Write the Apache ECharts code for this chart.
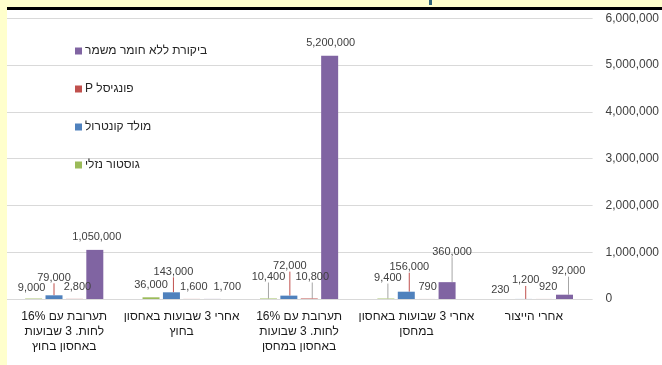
<!DOCTYPE html>
<html dir="rtl">
<head>
<meta charset="utf-8">
<script src="https://cdn.jsdelivr.net/npm/echarts@6/dist/echarts.min.js"></script>
<style>
html,body{margin:0;padding:0;background:#fff;}
#chart{width:662px;height:365px;}
</style>
</head>
<body>
<div id="chart"></div>
<script>
// Categories (data order; axis is drawn right-to-left)
var categories = [
  "אחרי הייצור",
  "אחרי 3 שבועות באחסון\nבמחסן",
  "תערובת עם 16%\nלחות. 3 שבועות\nבאחסון במחסן",
  "אחרי 3 שבועות באחסון\nבחוץ",
  "תערובת עם 16%\nלחות. 3 שבועות\nבאחסון בחוץ"
];
var seriesNames = ["גוסטור נזלי", "מולד קונטרול", "פונגיסל P", "ביקורת ללא חומר משמר"];
var gustorValues   = [230, 9400, 10400, 36000, 9000];
var moldValues     = [1200, 156000, 72000, 143000, 79000];
var fungiselValues = [920, 790, 10800, 1600, 2800];
var controlValues  = [92000, 360000, 5200000, 1700, 1050000];
var yTicks = [0, 1000000, 2000000, 3000000, 4000000, 5000000, 6000000];

// label nudges (dx, dy) per series, per category
var labelNudges = [
  [[-3,1],[2,-10],[0,-11],[0,-2],[-2,0]],
  [[2,-8],[3,-14],[1,-19],[2,-10],[0,-7]],
  [[4,-1],[1,-1],[3,-11],[2,-1],[3,-1]],
  [[4,-13],[5,-20],[1,-2],[15,-1],[2,-2]]
];
var colors = ['#9BBB59', '#4F81BD', '#C0504D', '#8064A2'];
var lineColors = ['#A6A6A6', '#C0504D', '#A6A6A6', '#A6A6A6'];
var allValues = [gustorValues, moldValues, fungiselValues, controlValues];

function fmt(v){ return Number(v).toLocaleString('en-US'); }

var FONT = '"Liberation Sans", "DejaVu Sans", Arial, sans-serif';

var series = allValues.map(function(vals, si){
  return {
    name: seriesNames[si],
    type: 'bar',
    barWidth: 17,
    barGap: '20%',
    itemStyle: { color: colors[si] },
    data: vals.map(function(v, di){
      return {
        value: v,
        labelLine: { show: labelNudges[si][di][1] <= -7 }
      };
    }),
    label: {
      show: true,
      position: 'top',
      distance: 5,
      color: '#404040',
      fontSize: 11,
      fontFamily: FONT,
      formatter: function(p){ return fmt(p.value); }
    },
    labelLine: { show: true, lineStyle: { color: lineColors[si], width: 1 } },
    labelLayout: function(p){
      var n = labelNudges[si][p.dataIndex];
      return { dx: n[0], dy: n[1] };
    }
  };
});

var chart = echarts.init(document.getElementById('chart'), null, {renderer: 'canvas'});
chart.setOption({
  animation: false,
  backgroundColor: '#ffffff',
  textStyle: { fontFamily: FONT },
  grid: { left: 5.5, right: 69.3, top: 18.3, bottom: 66, containLabel: false },
  legend: {
    orient: 'vertical',
    left: 70,
    top: 40,
    itemWidth: 7,
    itemHeight: 7,
    itemGap: 26,
    icon: 'rect',
    data: [seriesNames[3], seriesNames[2], seriesNames[1], seriesNames[0]],
    textStyle: { color: '#262626', fontSize: 12, fontFamily: FONT, padding: [0,0,0,-2] }
  },
  xAxis: {
    type: 'category',
    data: categories,
    inverse: true,
    axisLine: { show: false },
    axisTick: { show: false },
    axisLabel: {
      interval: 0,
      margin: 10,
      color: '#1a1a1a',
      fontSize: 12,
      lineHeight: 15,
      fontFamily: FONT
    }
  },
  yAxis: {
    type: 'value',
    position: 'right',
    min: yTicks[0],
    max: yTicks[yTicks.length - 1],
    interval: yTicks[1] - yTicks[0],
    axisLine: { show: false },
    axisTick: { show: false },
    splitLine: { lineStyle: { color: '#D9D9D9', width: 1 } },
    axisLabel: {
      margin: 13,
      color: '#404040',
      fontSize: 12,
      fontFamily: FONT,
      formatter: function(v){ return fmt(v); }
    }
  },
  graphic: [
    { type: 'rect', z: 100, shape: { x: 0, y: 0, width: 662, height: 7 }, style: { fill: '#FFFFCC' } },
    { type: 'rect', z: 100, shape: { x: 0, y: 0, width: 7, height: 365 }, style: { fill: '#FFFFCC' } },
    { type: 'rect', z: 100, shape: { x: 7, y: 7, width: 655, height: 3 }, style: { fill: '#000000' } },
    { type: 'rect', z: 100, shape: { x: 429, y: 0, width: 3, height: 5 }, style: { fill: '#31667A' } }
  ],
  series: series
});
</script>
</body>
</html>
